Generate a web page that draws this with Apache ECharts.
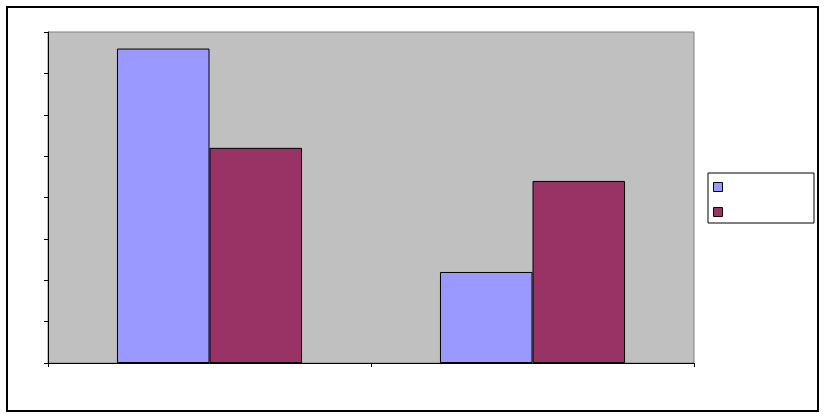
<!DOCTYPE html>
<html>
<head>
<meta charset="utf-8">
<script src="https://cdn.jsdelivr.net/npm/echarts@6/dist/echarts.min.js"></script>
<style>
html,body{margin:0;padding:0;background:#fff;}
#chart{width:827px;height:418px;}
</style>
</head>
<body>
<div id="chart"></div>
<script>
const categories = ['1', '2'];
const seriesNames = ['Series1', 'Series2'];
const series1Values = [7.6, 2.2];
const series2Values = [5.2, 4.4];
const yTicks = [0, 8, 1]; // min, max, interval

const chart = echarts.init(document.getElementById('chart'), null, {renderer: 'canvas'});
chart.setOption({
  animation: false,
  backgroundColor: '#ffffff',
  graphic: [{
    type: 'rect',
    shape: {x: 7, y: 7, width: 811, height: 404},
    style: {fill: 'none', stroke: '#000', lineWidth: 2},
    z: 100
  }],
  grid: {
    left: 48, top: 32, right: 133, bottom: 55,
    show: true,
    backgroundColor: '#C0C0C0',
    borderColor: '#808080',
    borderWidth: 1
  },
  legend: {
    orient: 'vertical',
    left: 708, top: 173,
    icon: 'rect',
    itemWidth: 9, itemHeight: 9,
    itemGap: 15,
    padding: [9, 91, 6, 5],
    borderColor: '#000',
    borderWidth: 1,
    backgroundColor: '#fff',
    formatter: function () { return ''; },
    textStyle: {fontSize: 1},
    itemStyle: {borderColor: '#000', borderWidth: 1},
    selectedMode: false
  },
  xAxis: {
    type: 'category',
    data: categories,
    axisLine: {lineStyle: {color: '#000', width: 1}},
    axisTick: {show: true, length: 4, alignWithLabel: false, lineStyle: {color: '#000'}},
    axisLabel: {show: false},
    splitLine: {show: false}
  },
  yAxis: {
    type: 'value',
    min: yTicks[0], max: yTicks[1], interval: yTicks[2],
    axisLine: {show: true, lineStyle: {color: '#000', width: 1}},
    axisTick: {show: true, length: 4, lineStyle: {color: '#000'}},
    axisLabel: {show: false},
    splitLine: {show: false}
  },
  series: [
    {
      name: seriesNames[0], type: 'bar', data: series1Values,
      barGap: '0%', barCategoryGap: '42.7%',
      itemStyle: {color: '#9999FF', borderColor: '#000', borderWidth: 1}
    },
    {
      name: seriesNames[1], type: 'bar', data: series2Values,
      barGap: '0%', barCategoryGap: '42.7%',
      itemStyle: {color: '#993366', borderColor: '#000', borderWidth: 1}
    }
  ]
});
</script>
</body>
</html>
